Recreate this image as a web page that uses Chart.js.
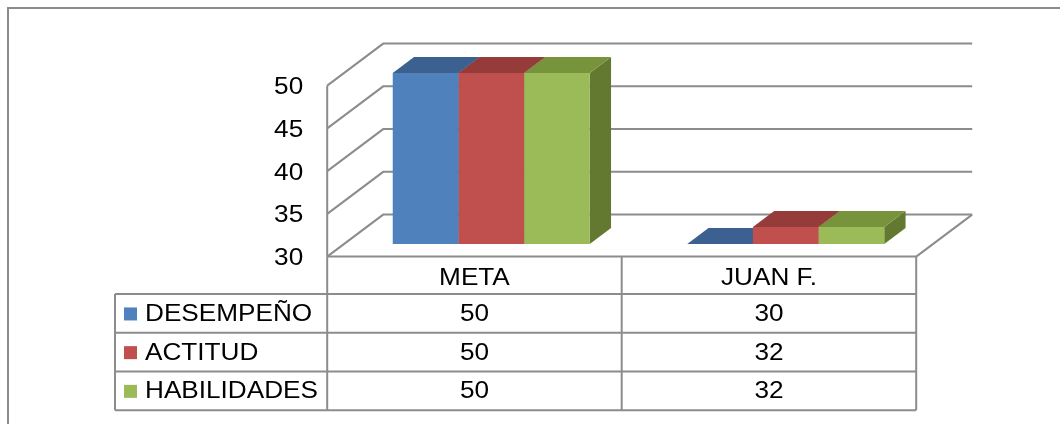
<!DOCTYPE html>
<html>
<head>
<meta charset="utf-8">
<script src="https://cdn.jsdelivr.net/npm/chart.js@4/dist/chart.umd.min.js"></script>
<style>
  html, body { margin: 0; padding: 0; background: #ffffff; }
  canvas { display: block; }
</style>
</head>
<body>
<canvas id="chart" width="1060" height="424"></canvas>
<script>
// Values per category, one array per series
const categories = ['META', 'JUAN F.'];
const seriesNames = ['DESEMPEÑO', 'ACTITUD', 'HABILIDADES'];
const desempeno = [50, 30];
const actitud = [50, 32];
const habilidades = [50, 32];
const yTicks = [30, 35, 40, 45, 50];

// Face colours: front / top / right side
const frontColors = ['#4F81BD', '#C0504D', '#9BBB59'];
const topColors = ['#3C6190', '#953C3A', '#77933C'];
const sideColors = ['#30527E', '#7C3230', '#62792F'];

// Oblique 3D projection of the plot box
const DEPTH_X = 56, DEPTH_Y = -42;
const FRONT_FRAC = 0.30;   // part of the depth lying in front of the bars
const BAR_FRAC = 0.38;     // depth of each bar
const LINE = '#8c8c8c';
const FONT = '24px "Liberation Sans", Arial, sans-serif';
const STRETCH = 1.09;

function drawText(ctx, s, x, y, align) {
  ctx.save();
  ctx.translate(x, y);
  ctx.scale(STRETCH, 1);
  ctx.font = FONT;
  ctx.fillStyle = '#000000';
  ctx.textAlign = align;
  ctx.textBaseline = 'middle';
  ctx.fillText(s, 0, 0);
  ctx.restore();
}

function line(ctx, pts) {
  ctx.beginPath();
  ctx.moveTo(pts[0][0], pts[0][1]);
  for (let i = 1; i < pts.length; i++) ctx.lineTo(pts[i][0], pts[i][1]);
  ctx.stroke();
}

function poly(ctx, pts, color) {
  ctx.beginPath();
  ctx.moveTo(pts[0][0], pts[0][1]);
  for (let i = 1; i < pts.length; i++) ctx.lineTo(pts[i][0], pts[i][1]);
  ctx.closePath();
  ctx.fillStyle = color;
  ctx.fill();
}

const fo = { x: -FRONT_FRAC * DEPTH_X, y: -FRONT_FRAC * DEPTH_Y };
const bo = { x: (1 - FRONT_FRAC) * DEPTH_X, y: (1 - FRONT_FRAC) * DEPTH_Y };
const bd = { x: BAR_FRAC * DEPTH_X, y: BAR_FRAC * DEPTH_Y };

const walls3d = {
  id: 'walls3d',
  beforeDatasetsDraw(chart) {
    const ctx = chart.ctx;
    const ca = chart.chartArea;
    const ys = chart.scales.y;
    ctx.save();
    ctx.strokeStyle = LINE;
    ctx.lineWidth = 2;

    // outer frame
    line(ctx, [[8, 424], [8, 8], [1060, 8]]);

    // gridlines: side wall diagonal + back wall horizontal
    yTicks.forEach(v => {
      const y = ys.getPixelForValue(v);
      line(ctx, [[ca.left + fo.x, y + fo.y], [ca.left + bo.x, y + bo.y], [ca.right + bo.x, y + bo.y]]);
      drawText(ctx, String(v), ca.left + fo.x - 24, y + fo.y + 2, 'right');
    });

    // front vertical axis edge and floor right edge
    const yTop = ys.getPixelForValue(yTicks[yTicks.length - 1]);
    const yBase = ys.getPixelForValue(yTicks[0]);
    line(ctx, [[ca.left + fo.x, yTop + fo.y], [ca.left + fo.x, yBase + fo.y]]);
    line(ctx, [[ca.right + fo.x, yBase + fo.y], [ca.right + bo.x, yBase + bo.y]]);

    // bar side and top faces, drawn left to right under the front faces
    const metas = chart.data.datasets.map((d, i) => chart.getDatasetMeta(i));
    categories.forEach((c, ci) => {
      metas.forEach((meta, di) => {
        const el = meta.data[ci];
        const l = el.x - el.width / 2, r = el.x + el.width / 2;
        const top = el.y, base = el.base;
        if (base - top > 0.5) {
          poly(ctx, [[r, top], [r + bd.x, top + bd.y], [r + bd.x, base + bd.y], [r, base]], sideColors[di]);
        }
        poly(ctx, [[l, top], [l + bd.x, top + bd.y], [r + bd.x, top + bd.y], [r, top]], topColors[di]);
      });
    });
    ctx.restore();
  },
  afterDraw(chart) {
    const ctx = chart.ctx;
    const ca = chart.chartArea;
    const xs = chart.scales.x;
    const ys = chart.scales.y;
    ctx.save();
    ctx.strokeStyle = LINE;
    ctx.lineWidth = 2;

    // data table under the plot
    const hTop = ys.getPixelForValue(yTicks[0]) + fo.y;
    const hBot = hTop + 37.5;
    const rowH = 38.7;
    const tLeft = 115;
    const colL = ca.left + fo.x;
    const colR = ca.right + fo.x;
    const bottom = hBot + rowH * seriesNames.length;
    const centers = categories.map((c, i) => xs.getPixelForValue(i) + fo.x);
    const bounds = [colL];
    for (let i = 0; i < categories.length - 1; i++) bounds.push((centers[i] + centers[i + 1]) / 2);
    bounds.push(colR);

    line(ctx, [[colL, hTop], [colR, hTop]]);
    for (let k = 0; k <= seriesNames.length; k++) {
      line(ctx, [[tLeft, hBot + k * rowH], [colR, hBot + k * rowH]]);
    }
    line(ctx, [[tLeft, hBot], [tLeft, bottom]]);
    line(ctx, [[colL, hTop], [colL, bottom]]);
    bounds.slice(1).forEach(x => line(ctx, [[x, hTop], [x, bottom]]));

    categories.forEach((c, i) => drawText(ctx, c, centers[i], (hTop + hBot) / 2 + 3, 'center'));

    chart.data.datasets.forEach((ds, di) => {
      const cy = hBot + rowH * di + rowH / 2 + 1;
      ctx.fillStyle = frontColors[di];
      ctx.fillRect(124, cy - 7, 13, 13);
      drawText(ctx, ds.label, 145, cy, 'left');
      ds.data.forEach((v, ci) => drawText(ctx, String(v), centers[ci], cy, 'center'));
    });
    ctx.restore();
  }
};

new Chart(document.getElementById('chart'), {
  type: 'bar',
  data: {
    labels: categories,
    datasets: [
      { label: seriesNames[0], data: desempeno, backgroundColor: frontColors[0] },
      { label: seriesNames[1], data: actitud, backgroundColor: frontColors[1] },
      { label: seriesNames[2], data: habilidades, backgroundColor: frontColors[2] }
    ]
  },
  options: {
    responsive: false,
    animation: false,
    devicePixelRatio: 1,
    layout: { padding: { left: 344, right: 127, top: 73, bottom: 180 } },
    datasets: { bar: { categoryPercentage: 0.669, barPercentage: 1.0, borderWidth: 0, base: yTicks[0] } },
    plugins: { legend: { display: false }, tooltip: { enabled: false }, title: { display: false } },
    scales: {
      x: { display: false },
      y: { display: false, min: yTicks[0], max: yTicks[yTicks.length - 1], ticks: { stepSize: 5 } }
    }
  },
  plugins: [walls3d]
});
</script>
</body>
</html>
